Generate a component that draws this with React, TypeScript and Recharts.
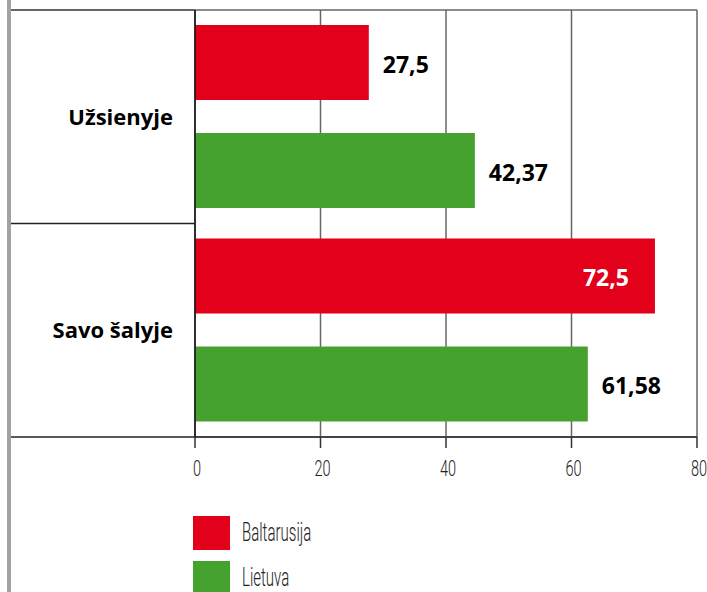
import React from 'react';
import { BarChart, Bar, XAxis, YAxis, CartesianGrid, LabelList, Legend } from 'recharts';

const categories = ['Užsienyje', 'Savo šalyje'];
const seriesNames = ['Baltarusija', 'Lietuva'];
const baltarusijaValues = [27.7, 73.3];
const lietuvaValues = [44.6, 62.6];
const baltarusijaLabels = ['27,5', '72,5'];
const lietuvaLabels = ['42,37', '61,58'];
const xTicks = [0, 20, 40, 60, 80];

const RED = '#E2001A';
const GREEN = '#46A22E';
const W = 707;
const H = 592;
const Y_AXIS_W = 184;
const MARGIN = { top: 10, right: 10, bottom: 105, left: 11 };
const X_AXIS_H = 50;
const PLOT_H = H - MARGIN.top - MARGIN.bottom - X_AXIS_H;
const CAT_GAP = 22;

const data = categories.map((c, i) => ({
  category: c,
  baltarusija: baltarusijaValues[i],
  lietuva: lietuvaValues[i],
  bLabel: baltarusijaLabels[i],
  lLabel: lietuvaLabels[i],
}));

const lightFont = 'Roboto, "Liberation Sans", sans-serif';
const boldFont = '"Open Sans", "Noto Sans", sans-serif';

const NumberTick = (props: any) => {
  const { x, y, payload } = props;
  return (
    <g transform={`translate(${x + 2},${y}) scale(0.66,1)`}>
      <text x={0} y={0} dy="0.7em" textAnchor="middle" fontFamily={lightFont} fontWeight={300} fontSize={22} fill="#222">
        {payload.value}
      </text>
    </g>
  );
};

const CategoryTick = (props: any) => {
  const { x, y, payload, index } = props;
  const axisX = x + CAT_GAP;
  const left = axisX - Y_AXIS_W;
  const half =
    payload && typeof payload.offset === 'number' && payload.offset > 0
      ? payload.offset
      : PLOT_H / categories.length / 2;
  return (
    <g>
      {index === 0 && (
        <line x1={left} x2={axisX} y1={y - half} y2={y - half} stroke="#333" strokeWidth={1.5} />
      )}
      <line x1={left} x2={axisX} y1={y + half} y2={y + half} stroke="#222" strokeWidth={1.5} />
      <text
        x={x}
        y={y}
        dy="0.36em"
        textAnchor="end"
        fontFamily={boldFont}
        fontWeight={700}
        fontSize={22}
        fill="#000"
      >
        {payload.value}
      </text>
    </g>
  );
};

const makeValueLabel = (insideIndex: number | null) => (props: any) => {
  const { x, y, width, height, value, index } = props;
  const inside = insideIndex !== null && index === insideIndex;
  const tx = inside ? x + width - 26 : x + width + 14;
  return (
    <text
      x={tx}
      y={y + height / 2 + 2}
      dy="0.36em"
      textAnchor={inside ? 'end' : 'start'}
      fontFamily={boldFont}
      fontWeight={700}
      fontSize={23}
      fill={inside ? '#fff' : '#000'}
    >
      {value}
    </text>
  );
};

const LegendContent = () => {
  const colors = [RED, GREEN];
  return (
    <div style={{ display: 'flex', flexDirection: 'column' }}>
      {seriesNames.map((n, i) => (
        <div key={n} style={{ display: 'flex', alignItems: 'center', height: 45 }}>
          <div style={{ width: 37, height: 34, background: colors[i], marginRight: 12, flexShrink: 0 }} />
          <span
            style={{
              display: 'inline-block',
              fontFamily: lightFont,
              fontWeight: 300,
              fontSize: 25,
              color: '#222',
              transform: 'scaleX(0.6)',
              transformOrigin: 'left center',
              whiteSpace: 'nowrap',
            }}
          >
            {n}
          </span>
        </div>
      ))}
    </div>
  );
};

export default function App() {
  return (
    <div
      style={{
        position: 'absolute',
        left: 0,
        top: 0,
        width: W,
        height: H,
        background: '#fff',
        overflow: 'hidden',
      }}
    >
      <div style={{ position: 'absolute', left: 7, top: 0, width: 4, height: H, background: '#a2a2a2' }} />
      <BarChart
        width={W}
        height={H}
        data={data}
        layout="vertical"
        margin={MARGIN}
        barSize={75}
        barGap={33}
      >
        <CartesianGrid
          stroke="#666"
          strokeWidth={1.5}
          horizontalCoordinatesGenerator={(p: any) => [p.offset.top]}
        />
        <XAxis
          type="number"
          domain={[0, 80]}
          ticks={xTicks}
          interval={0}
          height={X_AXIS_H}
          tickSize={11}
          tickMargin={13}
          axisLine={{ stroke: '#444', strokeWidth: 2 }}
          tickLine={{ stroke: '#333', strokeWidth: 1.5 }}
          tick={<NumberTick />}
        />
        <YAxis
          type="category"
          dataKey="category"
          width={Y_AXIS_W}
          tickLine={false}
          tickSize={0}
          tickMargin={CAT_GAP}
          axisLine={{ stroke: '#111', strokeWidth: 1.5 }}
          tick={<CategoryTick />}
          interval={0}
        />
        <Legend
          layout="vertical"
          align="center"
          verticalAlign="middle"
          wrapperStyle={{ left: 193, top: 510, width: 200 }}
          content={<LegendContent />}
        />
        <Bar dataKey="baltarusija" name={seriesNames[0]} fill={RED} isAnimationActive={false}>
          <LabelList dataKey="bLabel" content={makeValueLabel(1)} />
        </Bar>
        <Bar dataKey="lietuva" name={seriesNames[1]} fill={GREEN} isAnimationActive={false}>
          <LabelList dataKey="lLabel" content={makeValueLabel(null)} />
        </Bar>
      </BarChart>
    </div>
  );
}
